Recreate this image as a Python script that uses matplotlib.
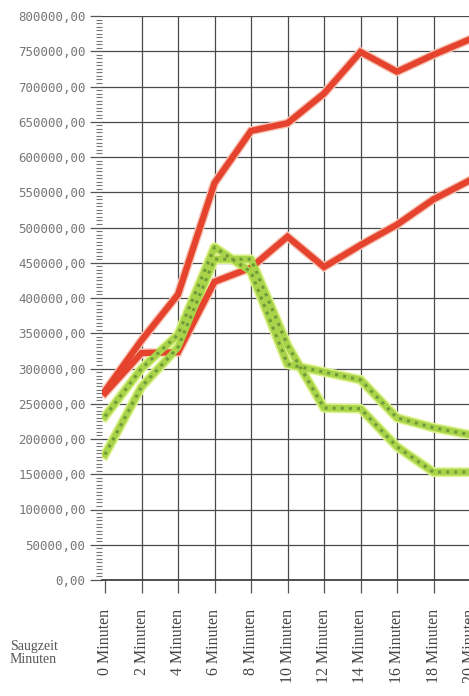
import matplotlib
matplotlib.use("Agg")
import matplotlib.pyplot as plt
from matplotlib.ticker import MultipleLocator, FuncFormatter

# Saugzeit in Minuten (x-Achse)
minuten = [0, 2, 4, 6, 8, 10, 12, 14, 16, 18, 20]
labels = ["%d Minuten" % m for m in minuten]

# Messreihen
rot_oben = [268000, 340000, 405000, 563000, 637000, 648000, 690000, 749000, 721000, 745000, 767000]
rot_unten = [265000, 322000, 323000, 423000, 443000, 487000, 444000, 475000, 504000, 540000, 567000]
gruen_a = [232000, 300000, 348000, 472000, 437000, 306000, 295000, 284000, 230000, 216000, 206000]
gruen_b = [178000, 274000, 330000, 455000, 455000, 333000, 244000, 243000, 189000, 153000, 153000]

fig = plt.figure(figsize=(4.69, 6.96), dpi=100)
px = 18.25  # pixel pro minute
x0, x1 = -0.15, 20.3
ax = fig.add_axes([(105 + x0 * px) / 469, (696 - 580) / 696, (x1 - x0) * px / 469, 564 / 696])
ax.set_xlim(x0, x1)
ax.set_ylim(0, 800000)

# Gitter
ax.yaxis.set_major_locator(MultipleLocator(50000))
ax.yaxis.set_minor_locator(MultipleLocator(5000))
ax.set_xticks(minuten)
ax.grid(True, which="major", color="#4a4a4a", linewidth=0.9)
ax.xaxis.get_gridlines()[0].set_visible(False)

for s in ["top", "right", "left"]:
    ax.spines[s].set_visible(False)
ax.spines["bottom"].set_color("#333333")
ax.spines["bottom"].set_linewidth(1.2)

ax.tick_params(axis="y", which="major", direction="out", length=9, width=0.9, color="#555555", pad=3)
ax.tick_params(axis="y", which="minor", direction="out", length=4, width=0.8, color="#777777")
ax.tick_params(axis="x", which="major", direction="out", length=9, width=0.9, color="#555555", pad=12)

ax.yaxis.set_major_formatter(FuncFormatter(lambda v, p: ("%d,00" % v)))
for t in ax.get_yticklabels():
    t.set_family("DejaVu Sans Mono")
    t.set_fontsize(9)
    t.set_color("#777777")

ax.set_xticklabels(labels, rotation=90, family="Liberation Serif", fontsize=11.5,
                   color="#444444", va="top", ha="center")

# Linien
for serie in [rot_oben, rot_unten]:
    ax.plot(minuten, serie, color="#f6c4b4", linewidth=6.5, solid_joinstyle="miter", zorder=3)
    ax.plot(minuten, serie, color="#e5432d", linewidth=4.5, solid_joinstyle="miter", zorder=4)

for serie in [gruen_a, gruen_b]:
    ax.plot(minuten, serie, color="#dcf28c", linewidth=7, zorder=3)
    ax.plot(minuten, serie, color="#a9d44a", linewidth=4.8, zorder=4)
    ax.plot(minuten, serie, color="#6f9a3a", linewidth=2.2, linestyle=":", zorder=5)

fig.text(10 / 469, 1 - 653 / 696, "Saugzeit\nMinuten", family="Liberation Serif",
         fontsize=10, color="#555555", va="center", ha="left", linespacing=1.0)

fig.savefig("out.png", dpi=100)
